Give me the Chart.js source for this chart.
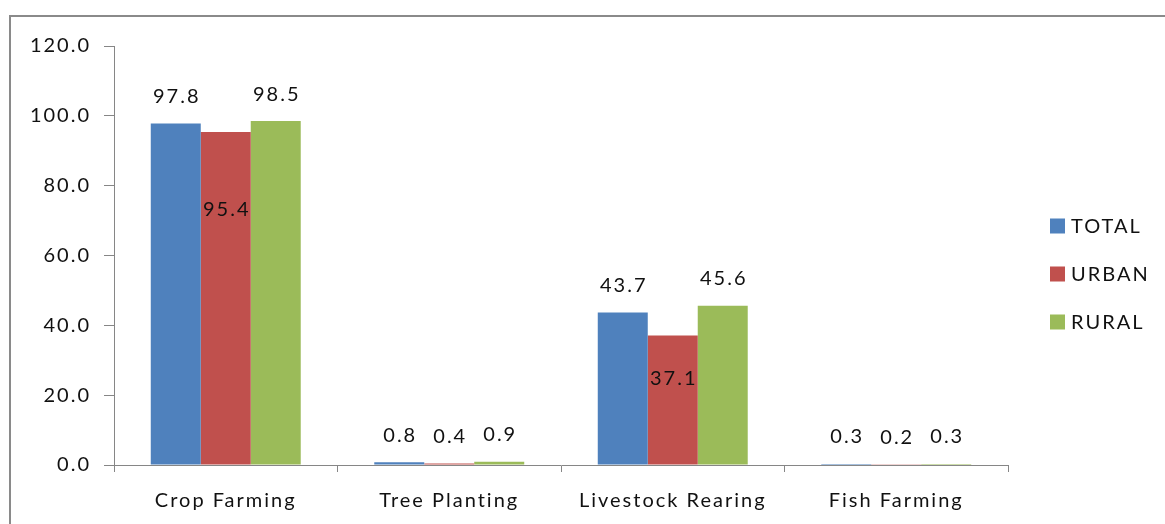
<!DOCTYPE html>
<html>
<head>
<meta charset="utf-8">
<script src="https://cdn.jsdelivr.net/npm/chart.js@4.4.1/dist/chart.umd.min.js"></script>
<style>
  html, body { margin: 0; padding: 0; background: #fff; }
  #wrap { position: relative; width: 1165px; height: 524px; overflow: hidden; }
  #frame {
    position: absolute; left: 9px; top: 15px; width: 1300px; height: 700px;
    border-left: 2px solid #8a8a8a; border-top: 2px solid #8a8a8a;
  }
  #farmChart { position: absolute; left: 0; top: 0; }
</style>
</head>
<body>
<div id="wrap">
  <div id="frame"></div>
  <canvas id="farmChart" width="1165" height="524"></canvas>
</div>
<script>
const categories = ['Crop Farming', 'Tree Planting', 'Livestock Rearing', 'Fish Farming'];
const seriesNames = ['TOTAL', 'URBAN', 'RURAL'];
const totalValues = [97.8, 0.8, 43.7, 0.3];
const urbanValues = [95.4, 0.4, 37.1, 0.2];
const ruralValues = [98.5, 0.9, 45.6, 0.3];
const seriesColors = ['#4f81bd', '#c0504d', '#9bbb59'];
const yMin = 0, yMax = 120, yStep = 20;

const FONT = 'Lato, "Liberation Sans", sans-serif';
const FONT_SIZE = 20;
const TEXT_COLOR = '#111';
const AXIS_COLOR = '#868686';

// widen all canvas text a little (context state is reset on resize, so set it each pass)
const textSpacing = {
  id: 'textSpacing',
  beforeLayout(chart) { chart.ctx.letterSpacing = '2px'; },
  beforeDraw(chart) { chart.ctx.letterSpacing = '2px'; }
};

// value labels: above each bar, except two URBAN labels that sit inside their bar
const valueLabels = {
  id: 'valueLabels',
  afterDatasetsDraw(chart, args, opts) {
    const ctx = chart.ctx;
    ctx.save();
    ctx.font = FONT_SIZE + 'px ' + FONT;
    ctx.fillStyle = TEXT_COLOR;
    ctx.textAlign = 'center';
    ctx.textBaseline = 'middle';
    chart.data.datasets.forEach((ds, di) => {
      chart.getDatasetMeta(di).data.forEach((bar, i) => {
        const drop = opts.inside[di] ? opts.inside[di][i] : null;
        const y = drop ? bar.y + drop : bar.y - opts.gap;
        ctx.fillText(ds.data[i].toFixed(1), bar.x + 1, y);
      });
    });
    ctx.restore();
  }
};

// legend drawn to the right of the plot
const sideLegend = {
  id: 'sideLegend',
  afterDraw(chart, args, opts) {
    const ctx = chart.ctx;
    ctx.save();
    ctx.font = FONT_SIZE + 'px ' + FONT;
    ctx.textBaseline = 'middle';
    ctx.textAlign = 'left';
    chart.data.datasets.forEach((ds, i) => {
      const y = opts.top + i * opts.spacing;
      ctx.fillStyle = ds.backgroundColor;
      ctx.fillRect(opts.x, y - opts.box / 2, opts.box, opts.box);
      ctx.fillStyle = TEXT_COLOR;
      ctx.fillText(ds.label, opts.x + opts.box + 6, y + 1);
    });
    ctx.restore();
  }
};

const seriesValues = [totalValues, urbanValues, ruralValues];

new Chart(document.getElementById('farmChart'), {
  type: 'bar',
  data: {
    labels: categories,
    datasets: seriesNames.map((name, i) => ({
      label: name,
      data: seriesValues[i],
      backgroundColor: seriesColors[i],
      borderWidth: 0,
      categoryPercentage: 0.671,
      barPercentage: 1.0
    }))
  },
  options: {
    responsive: false,
    animation: false,
    layout: { padding: { top: 46, right: 157, bottom: 0, left: 0 } },
    plugins: {
      legend: { display: false },
      tooltip: { enabled: false },
      valueLabels: { gap: 27, inside: { 1: { 0: 78, 2: 43 } } },
      sideLegend: { x: 1050, top: 226, spacing: 48, box: 15 }
    },
    scales: {
      x: {
        grid: { display: true, drawOnChartArea: false, drawTicks: true, tickLength: 7, color: AXIS_COLOR, offset: true },
        border: { display: true, color: AXIS_COLOR, width: 1 },
        ticks: { color: TEXT_COLOR, font: { family: FONT, size: FONT_SIZE }, padding: 17, maxRotation: 0 },
        afterFit(scale) { scale.height = 59; }
      },
      y: {
        min: yMin,
        max: yMax,
        grid: { display: true, drawOnChartArea: false, drawTicks: true, tickLength: 10, color: AXIS_COLOR },
        border: { display: true, color: AXIS_COLOR, width: 1 },
        ticks: {
          stepSize: yStep,
          color: TEXT_COLOR,
          font: { family: FONT, size: FONT_SIZE },
          padding: 13,
          callback: v => v.toFixed(1)
        },
        afterFit(scale) { scale.width = 114; }
      }
    }
  },
  plugins: [textSpacing, valueLabels, sideLegend]
});
</script>
</body>
</html>
